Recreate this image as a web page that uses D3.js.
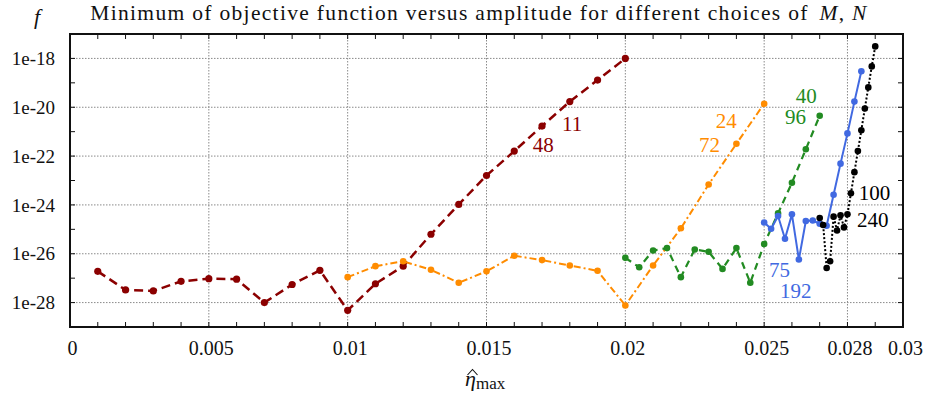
<!DOCTYPE html>
<html>
<head>
<meta charset="utf-8">
<script src="https://cdn.jsdelivr.net/npm/d3@7"></script>
<style>
  body { margin: 0; background: #fff; }
  text { font-family: "Liberation Serif", "Times New Roman", serif; fill: #111; }
</style>
</head>
<body>
<svg id="chart" width="925" height="398"></svg>
<script>
// values
var xTicks = [0, 0.005, 0.01, 0.015, 0.02, 0.025, 0.028, 0.03];
var xTickLabels = ['0', '0.005', '0.01', '0.015', '0.02', '0.025', '0.028', '0.03'];
var yTicks = [1e-18, 1e-20, 1e-22, 1e-24, 1e-26, 1e-28];
var yTickLabels = ['1e-18', '1e-20', '1e-22', '1e-24', '1e-26', '1e-28'];

// M=11, N=48
var redX = [0.001, 0.002, 0.003, 0.004, 0.005, 0.006, 0.007, 0.008, 0.009, 0.010,
            0.011, 0.012, 0.013, 0.014, 0.015, 0.016, 0.017, 0.018, 0.019, 0.020];
var redF = [1.9e-27, 3.3e-28, 3.0e-28, 7.4e-28, 9.5e-28, 9.1e-28, 1.0e-28, 5.5e-28, 2.1e-27, 4.8e-29,
            5.9e-28, 3.1e-27, 6.3e-26, 1.05e-24, 1.6e-23, 1.6e-22, 1.7e-21, 1.7e-20, 1.3e-19, 1.0e-18];

// M=24, N=72
var orangeX = [0.010, 0.011, 0.012, 0.013, 0.014, 0.015, 0.016, 0.017,
               0.018, 0.019, 0.020, 0.021, 0.022, 0.023, 0.024, 0.025];
var orangeF = [1.1e-27, 3.1e-27, 4.9e-27, 2.2e-27, 6.5e-28, 1.9e-27, 8.3e-27, 5.5e-27,
               3.3e-27, 2.0e-27, 7.6e-29, 3.3e-27, 1.1e-25, 6.9e-24, 3.2e-22, 1.4e-20];

// M=40, N=96
var greenX = [0.0200, 0.0205, 0.0210, 0.0215, 0.0220, 0.0225, 0.0230, 0.0235,
              0.0240, 0.0245, 0.0250, 0.0255, 0.0260, 0.0265, 0.0270];
var greenF = [6.8e-27, 2.8e-27, 1.35e-26, 1.7e-26, 1.1e-27, 1.5e-26, 1.2e-26, 2.4e-27,
              1.7e-26, 6.5e-28, 2.5e-26, 4.5e-25, 8.1e-24, 1.9e-22, 4.5e-21];

// M=75, N=192
var blueX = [0.02500, 0.02525, 0.02550, 0.02575, 0.02600, 0.02625, 0.02650, 0.02675,
             0.02700, 0.02725, 0.02750, 0.02775, 0.02800, 0.02825, 0.02850];
var blueF = [1.9e-25, 1.05e-25, 3.5e-25, 4.1e-26, 4.1e-25, 5.8e-27, 2.2e-25, 2.3e-25,
             1.7e-25, 1.4e-25, 2.6e-24, 4.9e-23, 8.5e-22, 1.7e-20, 3.0e-19];

// M=100, N=240
var blackX = [0.027000, 0.027125, 0.027250, 0.027375, 0.027500, 0.027625, 0.027750, 0.027875, 0.028000,
              0.028125, 0.028250, 0.028375, 0.028500, 0.028625, 0.028750, 0.028875, 0.029000];
var blackF = [2.9e-25, 1.5e-25, 2.6e-27, 4.9e-27, 3.3e-25, 8.9e-26, 3.8e-25, 1.2e-25, 4.1e-25,
              3.0e-24, 2.2e-23, 1.6e-22, 1.15e-21, 8.9e-21, 6.5e-20, 4.7e-19, 3.1e-18];

// series labels: [text, x, f]
var seriesLabels = [
  ['11', 0.01772, 1.07e-21], ['48', 0.01667, 1.5e-22],
  ['24', 0.02326, 1.4e-21], ['72', 0.02265, 1.5e-22],
  ['40', 0.02614, 1.5e-20], ['96', 0.02575, 2.1e-21],
  ['75', 0.02517, 1.1e-27], ['192', 0.02557, 1.55e-28],
  ['100', 0.02841, 1.6e-24], ['240', 0.02834, 1.26e-25]
];

var series = [
  { x: redX, f: redF, color: '#8b0000', width: 2.5, dash: '9,5', r: 3.6, labels: [0, 1] },
  { x: orangeX, f: orangeF, color: '#ff8c00', width: 2, dash: '7,3,2,3', r: 3.3, labels: [2, 3] },
  { x: greenX, f: greenF, color: '#228b22', width: 2.2, dash: '7,5', r: 3.3, labels: [4, 5] },
  { x: blueX, f: blueF, color: '#4169e1', width: 2, dash: null, r: 3.3, labels: [6, 7] },
  { x: blackX, f: blackF, color: '#000000', width: 2, dash: '2,2', r: 3.3, labels: [8, 9] }
];

var margin = { top: 34, right: 22, bottom: 71, left: 70 };
var width = 925 - margin.left - margin.right,
    height = 398 - margin.top - margin.bottom;

var svg = d3.select('#chart');
var g = svg.append('g').attr('transform', 'translate(' + margin.left + ',' + margin.top + ')');

var x = d3.scaleLinear().domain([0, 0.03]).range([0, width]);
var y = d3.scaleLog().domain([1e-29, 1e-17]).range([height, 0]);

// grid
g.append('g').selectAll('line')
  .data(xTicks.filter(function(d) { return d > 0 && d < 0.03; }))
  .enter().append('line')
  .attr('x1', function(d) { return x(d); }).attr('x2', function(d) { return x(d); })
  .attr('y1', 0).attr('y2', height)
  .attr('stroke', '#8a8a8a').attr('stroke-width', 1).attr('stroke-dasharray', '1.5,1.5');
g.append('g').selectAll('line')
  .data(yTicks)
  .enter().append('line')
  .attr('y1', function(d) { return y(d); }).attr('y2', function(d) { return y(d); })
  .attr('x1', 0).attr('x2', width)
  .attr('stroke', '#8a8a8a').attr('stroke-width', 1).attr('stroke-dasharray', '1.5,1.5');

// minor ticks
var minorX = d3.range(1, 30).map(function(i) { return i / 1000; });
var minorY = [1e-18, 1e-19, 1e-20, 1e-21, 1e-22, 1e-23, 1e-24, 1e-25, 1e-26, 1e-27, 1e-28];
var ticks = g.append('g').attr('stroke', '#111').attr('stroke-width', 1);
minorX.forEach(function(d) {
  ticks.append('line').attr('x1', x(d)).attr('x2', x(d)).attr('y1', height).attr('y2', height - 5);
  ticks.append('line').attr('x1', x(d)).attr('x2', x(d)).attr('y1', 0).attr('y2', 5);
});
minorY.forEach(function(d) {
  ticks.append('line').attr('y1', y(d)).attr('y2', y(d)).attr('x1', 0).attr('x2', 5);
  ticks.append('line').attr('y1', y(d)).attr('y2', y(d)).attr('x1', width).attr('x2', width - 5);
});

// axes labels via d3 axes
var xAxis = d3.axisBottom(x).tickValues(xTicks)
  .tickFormat(function(d, i) { return xTickLabels[i]; }).tickSize(0).tickPadding(14);
var xa = g.append('g').attr('transform', 'translate(0,' + height + ')').call(xAxis);
xa.select('.domain').remove();
xa.selectAll('text').attr('font-size', '20px').attr('fill', '#111').attr('dx', '2');

var yAxis = d3.axisLeft(y).tickValues(yTicks)
  .tickFormat(function(d, i) { return yTickLabels[i]; }).tickSize(0).tickPadding(15);
var ya = g.append('g').call(yAxis);
ya.select('.domain').remove();
ya.selectAll('text').attr('font-size', '19px').attr('fill', '#111');

// series
series.forEach(function(s) {
  var pts = s.x.map(function(d, i) { return [d, s.f[i]]; });
  var line = d3.line().x(function(d) { return x(d[0]); }).y(function(d) { return y(d[1]); });
  g.append('path').datum(pts)
    .attr('d', line)
    .attr('fill', 'none')
    .attr('stroke', s.color)
    .attr('stroke-width', s.width)
    .attr('stroke-dasharray', s.dash);
  g.append('g').selectAll('circle').data(pts).enter().append('circle')
    .attr('cx', function(d) { return x(d[0]); })
    .attr('cy', function(d) { return y(d[1]); })
    .attr('r', s.r)
    .attr('fill', s.color);
  s.labels.forEach(function(k) {
    var L = seriesLabels[k];
    g.append('text')
      .attr('x', x(L[1])).attr('y', y(L[2]))
      .attr('font-size', '21px')
      .style('fill', s.color)
      .text(L[0]);
  });
});

// frame
g.append('rect').attr('x', 0).attr('y', 0).attr('width', width).attr('height', height)
  .attr('fill', 'none').attr('stroke', '#111').attr('stroke-width', 2);

// title - letter-spaced so it spans the same width as the original (x 93..865)
var titleText = 'Minimum of objective function versus amplitude for different choices of ';
var title = svg.append('text').attr('x', 479).attr('y', 20)
  .attr('text-anchor', 'middle').attr('font-size', '21.5px');
title.append('tspan').text(titleText);
title.append('tspan').attr('font-style', 'italic').attr('dx', 4).text('M');
title.append('tspan').text(', ');
title.append('tspan').attr('font-style', 'italic').text('N');
var tlen = title.node().getComputedTextLength();
if (tlen > 0 && tlen < 772) {
  title.attr('letter-spacing', ((772 - tlen) / (titleText.length + 3)).toFixed(2) + 'px');
}

// y label
svg.append('text').attr('x', 34).attr('y', 24).attr('font-size', '22px')
  .attr('font-style', 'italic').text('f');

// x label
var xl = svg.append('text').attr('x', 465).attr('y', 386).attr('font-size', '22px');
xl.append('tspan').attr('font-style', 'italic').text('\u03b7');
xl.append('tspan').attr('font-size', '17px').attr('dy', 3).text('max');
svg.append('path').attr('d', 'M467.5,375 L472.5,369.5 L477.5,375')
  .attr('fill', 'none').attr('stroke', '#111').attr('stroke-width', 1.1);
</script>
</body>
</html>
